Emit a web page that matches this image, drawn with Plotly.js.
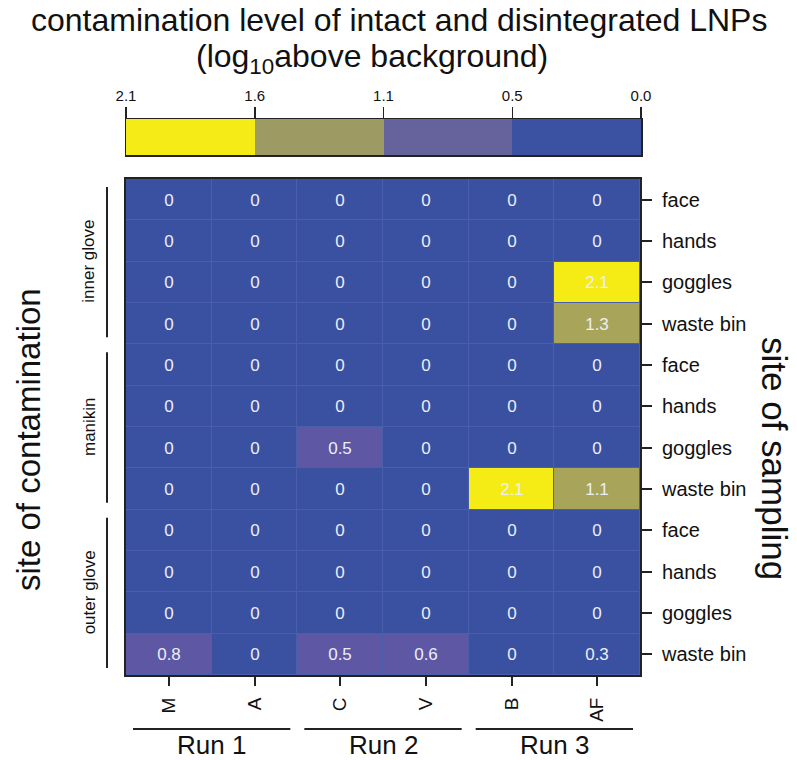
<!DOCTYPE html>
<html>
<head>
<meta charset="utf-8">
<script src="https://cdn.plot.ly/plotly-3.0.1.min.js"></script>
<style>
  html, body { margin: 0; padding: 0; background: #fff; }
  #chart { width: 797px; height: 760px; }
</style>
</head>
<body>
<div id="chart"></div>
<script>
// Sampled individuals (columns) and the run each belongs to
const samplers = ["M", "A", "C", "V", "B", "AF"];
const runs = ["Run 1", "Run 2", "Run 3"];
const runOfSampler = [0, 0, 1, 1, 2, 2];

// Rows: site of contamination x site of sampling
const contaminationSites = ["inner glove", "manikin", "outer glove"];
const samplingSites = ["face", "hands", "goggles", "waste bin"];

// log10 contamination above background, one row per (contamination, sampling) pair
const innerGlove = [
  [0, 0, 0, 0, 0, 0],
  [0, 0, 0, 0, 0, 0],
  [0, 0, 0, 0, 0, 2.1],
  [0, 0, 0, 0, 0, 1.3]
];
const manikin = [
  [0, 0, 0, 0, 0, 0],
  [0, 0, 0, 0, 0, 0],
  [0, 0, 0.5, 0, 0, 0],
  [0, 0, 0, 0, 2.1, 1.1]
];
const outerGlove = [
  [0, 0, 0, 0, 0, 0],
  [0, 0, 0, 0, 0, 0],
  [0, 0, 0, 0, 0, 0],
  [0.8, 0, 0.5, 0.6, 0, 0.3]
];

// Legend bin edges (high to low) and labels
const binEdges = [2.1, 1.6, 1.1, 0.5, 0.0];
const binLabels = ["2.1", "1.6", "1.1", "0.5", "0.0"];

// Colours per bin, from lowest bin (index 0) to highest (index 3)
const cellColors = ["#3a51a2", "#5e57a4", "#a8a55b", "#f6ec15"];
const legendColors = ["#3b52a3", "#66639c", "#9e9a63", "#f5eb17"];

const values = innerGlove.concat(manikin, outerGlove);
const nRows = values.length;

// bin index: 0 for [0,0.5), 1 for [0.5,1.1), 2 for [1.1,1.6), 3 for >= 1.6
function binOf(v) {
  const asc = binEdges.slice().reverse(); // 0.0, 0.5, 1.1, 1.6, 2.1
  let idx = 0;
  for (let k = 1; k < asc.length - 1; k++) {
    if (v >= asc[k] - 1e-9) idx = k;
  }
  return idx;
}

function stepScale(colors) {
  const n = colors.length;
  const scale = [];
  colors.forEach((c, i) => {
    scale.push([i / n, c]);
    scale.push([(i + 1) / n, c]);
  });
  return scale;
}

const zBins = values.map(r => r.map(binOf));
const zText = values.map(r => r.map(v => String(v)));
const rowIdx = values.map((_, i) => i);
const colIdx = samplers.map((_, i) => i);
const rowLabels = [];
contaminationSites.forEach(() => samplingSites.forEach(s => rowLabels.push(s)));

const W = 797, H = 760;
const px = x => x / W;
const py = y => 1 - y / H;

// main grid placement (pixels)
const gL = 126, gR = 640, gT = 179, gB = 675;
// legend strip placement
const lL = 126, lR = 641, lT = 119, lB = 155;

const font = "Liberation Sans, Arial, sans-serif";

const mainTrace = {
  type: "heatmap",
  x: colIdx,
  y: rowIdx,
  z: zBins,
  text: zText,
  texttemplate: "%{text}",
  textfont: { family: font, size: 17, color: "#eceef6" },
  colorscale: stepScale(cellColors),
  zmin: -0.5,
  zmax: 3.5,
  showscale: false,
  xgap: 1,
  ygap: 1,
  hoverinfo: "skip",
  xaxis: "x",
  yaxis: "y"
};

const legendTrace = {
  type: "heatmap",
  x: [0, 1, 2, 3],
  y: [0],
  z: [[3, 2, 1, 0]],
  colorscale: stepScale(legendColors),
  zmin: -0.5,
  zmax: 3.5,
  showscale: false,
  hoverinfo: "skip",
  xaxis: "x2",
  yaxis: "y2"
};

const annotations = [];
const shapes = [];

// two-line heading
annotations.push({
  xref: "paper", yref: "paper", x: 0.5, y: py(20),
  xanchor: "center", yanchor: "middle",
  text: "contamination level of intact and disintegrated LNPs",
  showarrow: false,
  font: { family: font, size: 32, color: "#111" }
});
annotations.push({
  xref: "paper", yref: "paper", x: px(372), y: py(58),
  xanchor: "center", yanchor: "middle",
  text: "(log<sub>10</sub>above background)",
  showarrow: false,
  font: { family: font, size: 32, color: "#111" }
});

// site of sampling / site of contamination
annotations.push({
  xref: "paper", yref: "paper", x: px(775), y: py(458),
  xanchor: "center", yanchor: "middle",
  text: "site of sampling", textangle: 90, showarrow: false,
  font: { family: font, size: 35, color: "#111" }
});
annotations.push({
  xref: "paper", yref: "paper", x: px(28), y: py(440),
  xanchor: "center", yanchor: "middle",
  text: "site of contamination", textangle: -90, showarrow: false,
  font: { family: font, size: 33, color: "#111" }
});

// contamination-site groups on the left
const rowH = (gB - gT) / nRows;
contaminationSites.forEach((name, g) => {
  const top = gT + g * samplingSites.length * rowH;
  const bot = top + samplingSites.length * rowH;
  shapes.push({
    type: "line", xref: "paper", yref: "paper",
    x0: px(107), x1: px(107), y0: py(top + 8), y1: py(bot - 7),
    line: { color: "#222", width: 2 }
  });
  annotations.push({
    xref: "paper", yref: "paper", x: px(89), y: py((top + bot) / 2),
    xanchor: "center", yanchor: "middle",
    text: name, textangle: -90, showarrow: false,
    font: { family: font, size: 17, color: "#111" }
  });
});

// run groups along the bottom
const colW = (gR - gL) / samplers.length;
runs.forEach((name, r) => {
  const cols = colIdx.filter(i => runOfSampler[i] === r);
  const left = gL + cols[0] * colW;
  const right = gL + (cols[cols.length - 1] + 1) * colW;
  shapes.push({
    type: "line", xref: "paper", yref: "paper",
    x0: px(left + 7), x1: px(right - 7), y0: py(729), y1: py(729),
    line: { color: "#222", width: 2 }
  });
  annotations.push({
    xref: "paper", yref: "paper", x: px((left + right) / 2), y: py(745),
    xanchor: "center", yanchor: "middle",
    text: name, showarrow: false,
    font: { family: font, size: 26, color: "#111" }
  });
});

const layout = {
  width: W,
  height: H,
  margin: { l: 0, r: 0, t: 0, b: 0 },
  paper_bgcolor: "#ffffff",
  plot_bgcolor: "#4a5fab",
  showlegend: false,
  xaxis: {
    domain: [px(gL), px(gR)],
    range: [-0.5, samplers.length - 0.5],
    anchor: "y",
    tickvals: colIdx,
    ticktext: samplers,
    tickangle: -90,
    ticks: "outside",
    ticklen: 9,
    tickwidth: 2,
    tickcolor: "#222",
    ticklabelstandoff: 4,
    showline: true,
    mirror: true,
    linecolor: "#222",
    linewidth: 2,
    showgrid: false,
    zeroline: false,
    tickfont: { family: font, size: 19, color: "#111" },
    fixedrange: true
  },
  yaxis: {
    domain: [py(gB), py(gT)],
    range: [nRows - 0.5, -0.5],
    anchor: "x",
    side: "right",
    tickvals: rowIdx,
    ticktext: rowLabels,
    ticks: "outside",
    ticklen: 10,
    tickwidth: 2,
    tickcolor: "#222",
    ticklabelstandoff: 6,
    showline: true,
    mirror: true,
    linecolor: "#222",
    linewidth: 2,
    showgrid: false,
    zeroline: false,
    tickfont: { family: font, size: 20, color: "#111" },
    fixedrange: true
  },
  xaxis2: {
    domain: [px(lL), px(lR)],
    range: [-0.5, 3.5],
    anchor: "y2",
    side: "top",
    tickvals: [-0.5, 0.5, 1.5, 2.5, 3.5],
    ticktext: binLabels,
    ticks: "outside",
    ticklen: 11,
    tickwidth: 1.5,
    tickcolor: "#222",
    showline: true,
    mirror: true,
    linecolor: "#222",
    linewidth: 1.5,
    showgrid: false,
    zeroline: false,
    tickfont: { family: font, size: 15, color: "#111" },
    fixedrange: true
  },
  yaxis2: {
    domain: [py(lB), py(lT)],
    range: [-0.5, 0.5],
    anchor: "x2",
    showticklabels: false,
    ticks: "",
    showline: true,
    mirror: true,
    linecolor: "#222",
    linewidth: 1.5,
    showgrid: false,
    zeroline: false,
    fixedrange: true
  },
  annotations: annotations,
  shapes: shapes
};

Plotly.newPlot("chart", [mainTrace, legendTrace], layout, { displayModeBar: false, staticPlot: true });
</script>
</body>
</html>
